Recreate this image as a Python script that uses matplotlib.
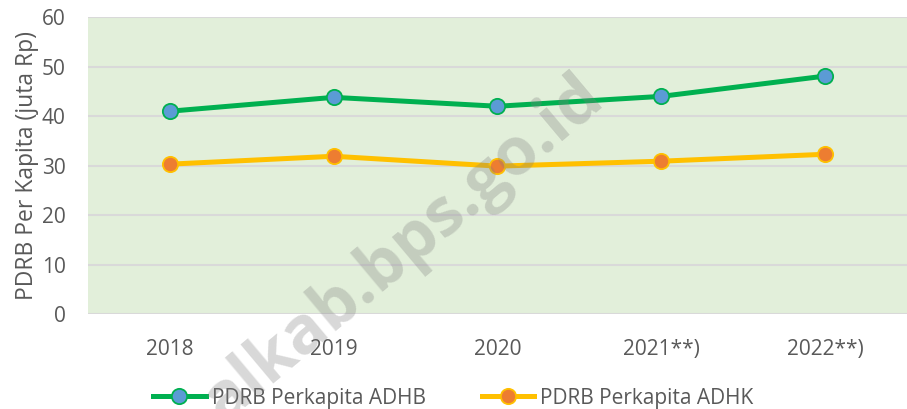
import matplotlib.pyplot as plt
import numpy as np

years = ['2018', '2019', '2020', '2021**)', '2022**)']
adhb = [41.0, 43.8, 42.0, 44.0, 48.1]
adhk = [30.3, 31.9, 29.9, 30.9, 32.3]

plt.rcParams['font.family'] = ['Open Sans', 'DejaVu Sans']
txt = '#595959'

fig = plt.figure(figsize=(9.07, 4.09), dpi=100)
ax = fig.add_axes([0.097, 0.232, 0.903, 0.726])
ax.set_facecolor('#e2efda')

x = np.arange(len(years))
ax.plot(x, adhb, color='#00b050', lw=3.6, marker='o', ms=11,
        mfc='#5b9bd5', mec='#00b050', mew=1.3, label='PDRB Perkapita ADHB', zorder=3)
ax.plot(x, adhk, color='#ffc000', lw=3.6, marker='o', ms=11,
        mfc='#ed7d31', mec='#ffc000', mew=1.3, label='PDRB Perkapita ADHK', zorder=3)

ax.set_xlim(-0.5, len(years) - 0.5)
ax.set_ylim(0, 60)
ax.set_yticks(range(0, 61, 10))
ax.set_xticks(x)
ax.set_xticklabels(years)
ax.yaxis.grid(True, color='#d9d9d9', lw=1.5)
ax.set_axisbelow(True)
for s in ax.spines.values():
    s.set_visible(False)
ax.tick_params(length=0, labelsize=15, colors=txt)
ax.tick_params(axis='y', pad=16)
ax.tick_params(axis='x', pad=18)
ax.set_ylabel('PDRB Per Kapita (juta Rp)', fontsize=16.5, color=txt, labelpad=2)

leg = fig.legend(loc='lower center', bbox_to_anchor=(0.5, -0.045), ncol=2, frameon=False,
                 fontsize=15, handlelength=2.5, columnspacing=2.7, handletextpad=0.3)
for t in leg.get_texts():
    t.set_color(txt)

# watermark
fig.text(0.445, 0.39, 'alkab.bps.go.id', fontsize=48, fontweight='bold', color='#7f7f7f',
         alpha=0.3, rotation=40, ha='center', va='center', zorder=10)

fig.savefig('out.png', dpi=100)
